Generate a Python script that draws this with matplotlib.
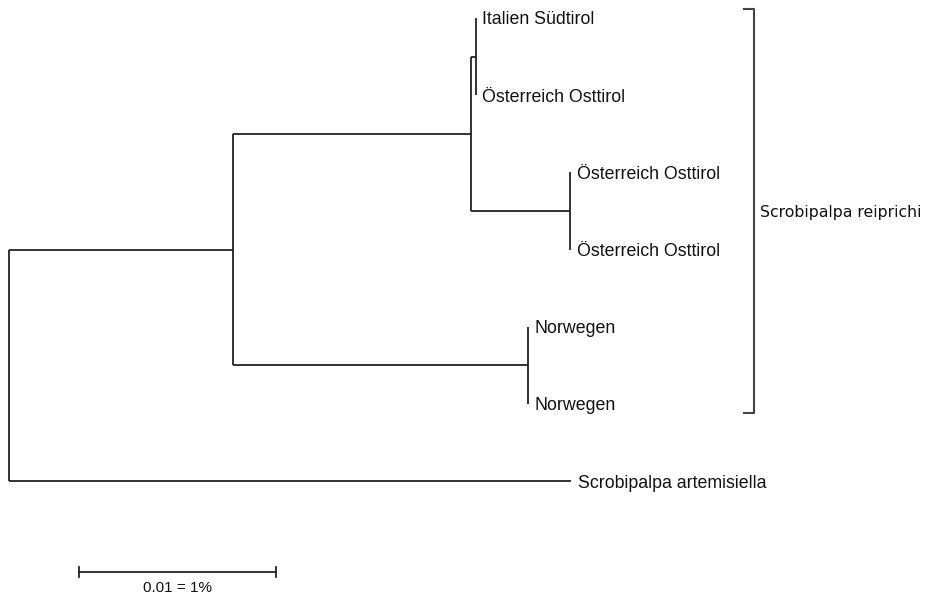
import matplotlib
matplotlib.use("Agg")
import matplotlib.pyplot as plt

plt.rcParams['font.family'] = ['Liberation Sans', 'DejaVu Sans']

# tip labels, top to bottom
tips = ["Italien Südtirol", "Österreich Osttirol", "Österreich Osttirol",
        "Österreich Osttirol", "Norwegen", "Norwegen", "Scrobipalpa artemisiella"]

# tree as (tip index or None, branch length, children)
tree = (None, 0.0, [
    (None, 0.01137, [
        (None, 0.01208, [
            (None, 0.00025, [(0, 0.0, []), (1, 0.0, [])]),
            (None, 0.00503, [(2, 0.0, []), (3, 0.0, [])]),
        ]),
        (None, 0.01498, [(4, 0.0, []), (5, 0.0, [])]),
    ]),
    (6, 0.02853, []),
])

clade_name = "Scrobipalpa reiprichi"
clade_tips = [0, 5]
scale_len = 0.01
scale_text = "0.01 = 1%"

col = "#222222"
lw = 1.3

fig = plt.figure(figsize=(9.27, 5.94), dpi=100)
ax = fig.add_axes([0, 0, 1, 1])
ax.axis("off")


def draw(node, x0):
    name, bl, kids = node
    x = x0 + bl
    if not kids:
        y = name
        ax.text(x + 0.00033, y, tips[name], fontsize=12.8, va="center_baseline",
                ha="left", color="#111111")
    else:
        ys = [draw(k, x) for k in kids]
        y = (ys[0] + ys[-1]) / 2
        ax.plot([x, x], [ys[0], ys[-1]], color=col, lw=lw, solid_capstyle="butt")
    if bl > 0:
        ax.plot([x0, x], [y, y], color=col, lw=lw, solid_capstyle="butt")
    return y


draw(tree, 0.0)

# clade bracket
bx = 0.0378
ax.plot([bx - 0.0005, bx, bx, bx - 0.0005],
        [clade_tips[0] - 0.117, clade_tips[0] - 0.117, clade_tips[1] + 0.12, clade_tips[1] + 0.12],
        color="#444444", lw=1.5)
ax.text(bx + 0.0003, 2.5, clade_name, fontsize=11.3, va="center_baseline", ha="left",
        color="#111111", family="DejaVu Sans")

# scale bar
sx, sy = 0.00355, 7.18
ax.plot([sx, sx + scale_len], [sy, sy], color=col, lw=1.3)
ax.plot([sx, sx], [sy - 0.07, sy + 0.07], color=col, lw=1.3)
ax.plot([sx + scale_len, sx + scale_len], [sy - 0.07, sy + 0.07], color=col, lw=1.3)
ax.text(sx + scale_len / 2, sy + 0.12, scale_text, fontsize=11, va="top", ha="center", color="#111111")

ax.set_xlim(-9 / 19700, 918 / 19700)
ax.set_ylim((594 - 18) / 77.17, -18 / 77.17)

fig.savefig("out.png", dpi=100)
